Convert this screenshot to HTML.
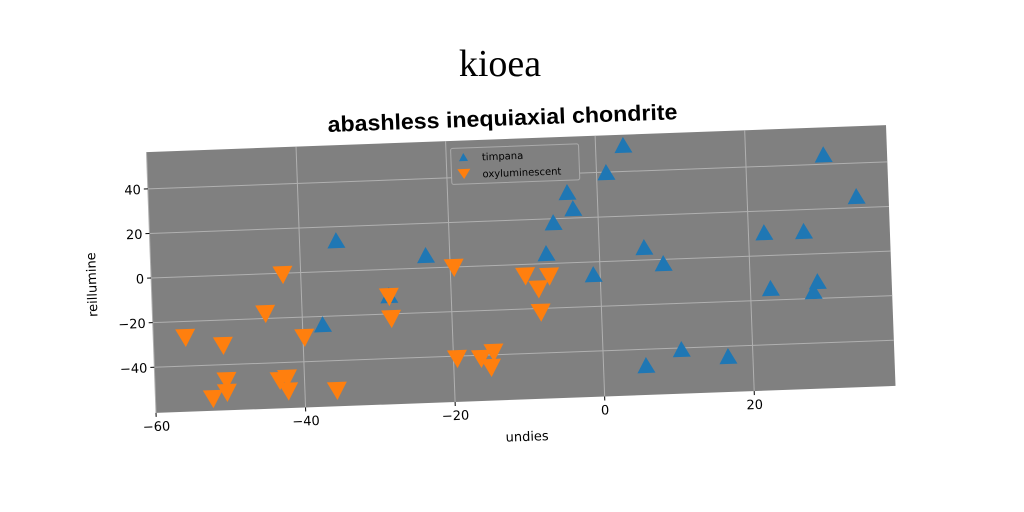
<!DOCTYPE html>
<html><head><meta charset="utf-8"><style>
html,body{margin:0;padding:0;background:#fff;}
svg{display:block;}
text{font-family:"DejaVu Sans","Liberation Sans",sans-serif;}
</style></head><body>
<svg id="chart" width="1024" height="512" viewBox="0 0 1024 512">
<rect width="1024" height="512" fill="#fff"/>
<text x="500" y="76" text-anchor="middle" font-size="38" fill="#000" style="font-family:'Liberation Serif',serif">kioea</text>
<g id="rot" transform="rotate(-2.09 521 269)">
<text x="508" y="125" text-anchor="middle" font-size="22" font-weight="bold" textLength="350" lengthAdjust="spacingAndGlyphs" style="font-family:'Liberation Sans Narrow','Liberation Sans',sans-serif">abashless inequiaxial chondrite</text>
<rect x="151" y="138.5" width="740" height="261" fill="#808080"/>
<g id="grid"></g>
<g id="ticks"></g>
<g id="marks"></g>
<text x="521" y="441" text-anchor="middle" font-size="13">undies</text>
<text x="0" y="0" transform="translate(96 269) rotate(-90)" text-anchor="middle" font-size="13">reillumine</text>
<g>
<rect x="455" y="146" width="128" height="36" fill="#808080" stroke="#aaa" stroke-width="1" rx="2"/>
<polygon points="463,159 472,159 467.5,151" fill="#1f77b4"/>
<text x="486" y="159" font-size="10">timpana</text>
<polygon points="461,167 474,167 467.5,177" fill="#ff7f0e"/>
<text x="486" y="176" font-size="10">oxyluminescent</text>
</g>
</g>
</svg>
<script>
const xTicks=[-60,-40,-20,0,20];
const yTicks=[-40,-20,0,20,40];
const blueX=[3.7,30.4,34.6,1.3,-4,-3.3,-6,-7.1,-35.1,-23.2,-0.9,6,8.5,22.1,27.4,22.7,29,28.4,-37.3,10.5,16.7,5.7,-28.3];
const blueY=[51.5,44,24.8,39.6,31.3,24,18,4.3,13.5,5.4,-5.9,5.4,-2.1,10.1,10,-15,-12.7,-17.1,-23.9,-40.9,-44.8,-47.5,-12];
const orangeX=[-42.4,-44.9,-55.7,-50.7,-39.8,-50.4,-52.3,-50.4,-43.3,-42.3,-42.2,-35.7,-28.3,-28.1,-19.5,-19.5,-16.3,-14.6,-15,-10,-6.8,-8.3,-8.1];
const orangeY=[-0.4,-17.6,-27,-31.2,-28.9,-47,-54.8,-52.3,-47.8,-46.9,-52.7,-53.2,-12,-21.9,0,-40.9,-41.2,-38.7,-45.4,-5,-5.5,-11,-21.5];
const X0=151,X1=891,Y0=138.5,Y1=399.5,xmin=-60.0,xmax=38.9,ymin=-60.5,ymax=56.5;
const sx=v=>X0+(v-xmin)/(xmax-xmin)*(X1-X0);
const sy=v=>Y1-(v-ymin)/(ymax-ymin)*(Y1-Y0);
const NS='http://www.w3.org/2000/svg';
const mk=(t,a,p)=>{const e=document.createElementNS(NS,t);for(const k in a)e.setAttribute(k,a[k]);p.appendChild(e);return e;};
const grid=document.getElementById('grid'),ticks=document.getElementById('ticks'),marks=document.getElementById('marks');
xTicks.forEach(v=>{
 const g=mk('line',{x1:sx(v),x2:sx(v),y1:Y0,y2:Y1,stroke:'#b0b0b0','stroke-width':1},grid);
 
 
 const tk=mk('line',{x1:sx(v),x2:sx(v),y1:Y1,y2:Y1+4,stroke:'#000'},ticks);
 
 
 const t=mk('text',{x:sx(v),y:Y1+18,'text-anchor':'middle','font-size':13},ticks);
 t.textContent=v<0?'\u2212'+(-v):String(v);
 
 
});
yTicks.forEach(v=>{
 const g=mk('line',{x1:X0,x2:X1,y1:sy(v),y2:sy(v),stroke:'#b0b0b0','stroke-width':1},grid);
 
 
 const tk=mk('line',{x1:X0-4,x2:X0,y1:sy(v),y2:sy(v),stroke:'#000'},ticks);
 
 
 const t=mk('text',{x:X0-7,y:sy(v)+5,'text-anchor':'end','font-size':13},ticks);
 t.textContent=v<0?'\u2212'+(-v):String(v);
 
 
});
blueX.forEach((v,i)=>{
 const x=sx(v),y=sy(blueY[i]);
 const p=mk('polygon',{points:`${x-9},${y+7} ${x+9},${y+7} ${x},${y-9}`,fill:'#1f77b4'},marks);
 
 
});
orangeX.forEach((v,i)=>{
 const x=sx(v),y=sy(orangeY[i]);
 const p=mk('polygon',{points:`${x-10},${y-8} ${x+10},${y-8} ${x},${y+10}`,fill:'#ff7f0e'},marks);
 
 
});
</script>
</body></html>
